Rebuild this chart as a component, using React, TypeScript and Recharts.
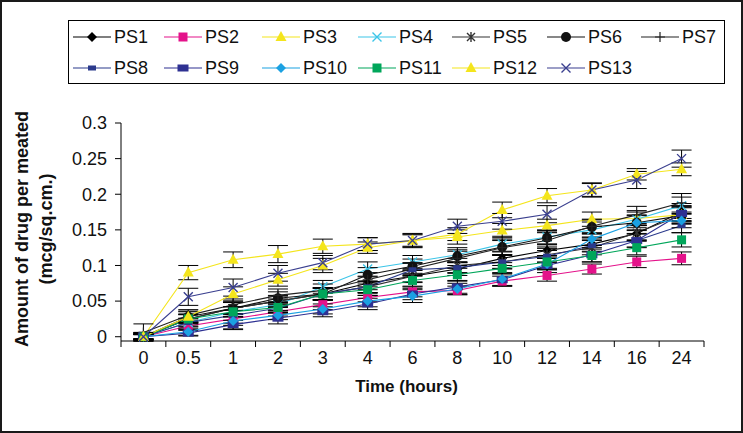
import React from 'react';
import { LineChart, Line, XAxis, YAxis, ErrorBar, Label } from 'recharts';

const timeLabels = ['0', '0.5', '1', '2', '3', '4', '6', '8', '10', '12', '14', '16', '24'];
const yTicks = [0, 0.05, 0.1, 0.15, 0.2, 0.25, 0.3];

const ps1 = [0, 0.025, 0.04, 0.05, 0.06, 0.075, 0.085, 0.095, 0.11, 0.121, 0.13, 0.145, 0.175];
const ps2 = [0, 0.015, 0.025, 0.035, 0.045, 0.055, 0.063, 0.065, 0.078, 0.086, 0.095, 0.105, 0.11];
const ps3 = [0, 0.09, 0.108, 0.116, 0.127, 0.13, 0.135, 0.14, 0.149, 0.156, 0.165, 0.166, 0.171];
const ps4 = [0, 0.02, 0.035, 0.045, 0.07, 0.095, 0.105, 0.115, 0.13, 0.14, 0.15, 0.165, 0.184];
const ps5 = [0, 0.025, 0.04, 0.05, 0.06, 0.07, 0.085, 0.1, 0.105, 0.115, 0.125, 0.146, 0.171];
const ps6 = [0, 0.028, 0.04, 0.054, 0.06, 0.087, 0.099, 0.113, 0.126, 0.139, 0.154, 0.16, 0.17];
const ps7 = [0.006, 0.03, 0.045, 0.058, 0.065, 0.08, 0.095, 0.11, 0.125, 0.135, 0.155, 0.171, 0.188];
const ps8 = [0, 0.02, 0.03, 0.04, 0.06, 0.07, 0.094, 0.097, 0.105, 0.113, 0.128, 0.135, 0.156];
const ps9 = [0, 0.005, 0.017, 0.026, 0.035, 0.046, 0.06, 0.07, 0.08, 0.1, 0.115, 0.135, 0.173];
const ps10 = [0, 0.007, 0.022, 0.03, 0.039, 0.05, 0.057, 0.067, 0.081, 0.102, 0.137, 0.16, 0.163];
const ps11 = [0, 0.025, 0.035, 0.041, 0.06, 0.066, 0.079, 0.087, 0.096, 0.105, 0.114, 0.125, 0.136];
const ps12 = [0, 0.028, 0.06, 0.08, 0.1, 0.125, 0.135, 0.144, 0.178, 0.198, 0.206, 0.228, 0.235];
const ps13 = [0, 0.056, 0.069, 0.089, 0.104, 0.13, 0.135, 0.155, 0.162, 0.172, 0.206, 0.22, 0.25];

// error bar half-lengths (+/-)
const ps1Err = [0.004, 0.006, 0.008, 0.007, 0.008, 0.009, 0.008, 0.009, 0.01, 0.009, 0.01, 0.011, 0.012];
const ps2Err = [0.003, 0.005, 0.006, 0.006, 0.007, 0.006, 0.007, 0.006, 0.007, 0.008, 0.007, 0.008, 0.009];
const ps3Err = [0.006, 0.01, 0.011, 0.012, 0.01, 0.009, 0.008, 0.01, 0.01, 0.009, 0.01, 0.009, 0.01];
const ps4Err = [0.004, 0.006, 0.007, 0.008, 0.009, 0.01, 0.009, 0.01, 0.011, 0.01, 0.011, 0.012, 0.012];
const ps5Err = [0.004, 0.007, 0.008, 0.008, 0.009, 0.008, 0.009, 0.01, 0.01, 0.011, 0.01, 0.01, 0.012];
const ps6Err = [0.005, 0.007, 0.008, 0.009, 0.009, 0.01, 0.01, 0.009, 0.011, 0.01, 0.01, 0.011, 0.012];
const ps7Err = [0.012, 0.008, 0.008, 0.009, 0.009, 0.01, 0.009, 0.01, 0.01, 0.011, 0.01, 0.012, 0.013];
const ps8Err = [0.003, 0.005, 0.02, 0.007, 0.008, 0.008, 0.009, 0.008, 0.009, 0.008, 0.009, 0.01, 0.01];
const ps9Err = [0.003, 0.004, 0.006, 0.008, 0.007, 0.008, 0.008, 0.009, 0.009, 0.01, 0.01, 0.009, 0.011];
const ps10Err = [0.003, 0.005, 0.006, 0.006, 0.007, 0.008, 0.009, 0.008, 0.009, 0.008, 0.009, 0.01, 0.01];
const ps11Err = [0.004, 0.006, 0.007, 0.007, 0.008, 0.008, 0.008, 0.009, 0.008, 0.009, 0.009, 0.01, 0.01];
const ps12Err = [0.005, 0.008, 0.01, 0.009, 0.01, 0.008, 0.009, 0.009, 0.011, 0.01, 0.009, 0.008, 0.009];
const ps13Err = [0.006, 0.012, 0.012, 0.011, 0.01, 0.009, 0.01, 0.01, 0.011, 0.012, 0.01, 0.012, 0.012];

const YELLOW = '#f4e51c';

const series = [
  { key: 'ps1', name: 'PS1', color: '#000000', shape: 'diamond', values: ps1, errors: ps1Err },
  { key: 'ps2', name: 'PS2', color: '#e4128a', shape: 'square', values: ps2, errors: ps2Err },
  { key: 'ps3', name: 'PS3', color: YELLOW, shape: 'triangle', values: ps3, errors: ps3Err },
  { key: 'ps4', name: 'PS4', color: '#3cc5e8', shape: 'x', values: ps4, errors: ps4Err },
  { key: 'ps5', name: 'PS5', color: '#333333', shape: 'star', values: ps5, errors: ps5Err },
  { key: 'ps6', name: 'PS6', color: '#111111', shape: 'circle', values: ps6, errors: ps6Err },
  { key: 'ps7', name: 'PS7', color: '#222222', shape: 'plus', values: ps7, errors: ps7Err },
  { key: 'ps8', name: 'PS8', color: '#2b3a8c', shape: 'dash', values: ps8, errors: ps8Err },
  { key: 'ps9', name: 'PS9', color: '#2e3192', shape: 'rect', values: ps9, errors: ps9Err },
  { key: 'ps10', name: 'PS10', color: '#1ba1e2', shape: 'diamond', values: ps10, errors: ps10Err },
  { key: 'ps11', name: 'PS11', color: '#00a65a', shape: 'square', values: ps11, errors: ps11Err },
  { key: 'ps12', name: 'PS12', color: YELLOW, shape: 'triangle', values: ps12, errors: ps12Err },
  { key: 'ps13', name: 'PS13', color: '#3a3f8f', shape: 'x', values: ps13, errors: ps13Err },
];

const data = timeLabels.map((t, i) => {
  const row: any = { idx: i, time: t };
  series.forEach((s) => {
    row[s.key] = s.values[i];
    row[s.key + 'Err'] = s.errors[i];
  });
  return row;
});

// tick marks sit between categories (excel style)
const boundaryTicks = [...timeLabels.map((_, i) => i - 0.5), timeLabels.length - 0.5];

const FONT = 'Arial, "Liberation Sans", sans-serif';
const PLOT_W = 583;
const HALF_BAND = PLOT_W / timeLabels.length / 2;

function Marker({ shape, color, cx, cy }: { shape: string; color: string; cx: number; cy: number }) {
  if (cx == null || cy == null) return null;
  switch (shape) {
    case 'diamond':
      return <path d={`M${cx},${cy - 5}L${cx + 5},${cy}L${cx},${cy + 5}L${cx - 5},${cy}Z`} fill={color} />;
    case 'square':
      return <rect x={cx - 4.5} y={cy - 4.5} width={9} height={9} fill={color} />;
    case 'triangle':
      return <path d={`M${cx},${cy - 6}L${cx + 5.5},${cy + 4}L${cx - 5.5},${cy + 4}Z`} fill={color} />;
    case 'x':
      return (
        <path
          d={`M${cx - 4.5},${cy - 4.5}L${cx + 4.5},${cy + 4.5}M${cx - 4.5},${cy + 4.5}L${cx + 4.5},${cy - 4.5}`}
          stroke={color}
          strokeWidth={1.4}
          fill="none"
        />
      );
    case 'star':
      return (
        <path
          d={`M${cx - 4},${cy - 4}L${cx + 4},${cy + 4}M${cx - 4},${cy + 4}L${cx + 4},${cy - 4}M${cx},${cy - 5}L${cx},${cy + 5}`}
          stroke={color}
          strokeWidth={1.4}
          fill="none"
        />
      );
    case 'circle':
      return <circle cx={cx} cy={cy} r={5} fill={color} />;
    case 'plus':
      return (
        <path
          d={`M${cx - 5},${cy}L${cx + 5},${cy}M${cx},${cy - 5}L${cx},${cy + 5}`}
          stroke={color}
          strokeWidth={1.2}
          fill="none"
        />
      );
    case 'dash':
      return <rect x={cx - 4} y={cy - 2.5} width={8} height={5} fill={color} />;
    case 'rect':
      return <rect x={cx - 5.5} y={cy - 3.5} width={11} height={7} fill={color} />;
    default:
      return null;
  }
}

const TimeTick = (props: any) => {
  const { x, y, payload } = props;
  const i = Math.round(payload.value + 0.5);
  if (i < 0 || i >= timeLabels.length) return <g />;
  return (
    <text x={x + HALF_BAND} y={y} dy="0.71em" textAnchor="middle" fontSize={18} fontFamily={FONT} fill="#111">
      {timeLabels[i]}
    </text>
  );
};

const YTitle = (props: any) => {
  const vb = props.viewBox || {};
  const cy = (vb.y || 0) + (vb.height || 0) / 2 - 3;
  return (
    <g fontFamily={FONT} fontWeight="bold" fontSize={18} fill="#111">
      <text x={22} y={cy} transform={`rotate(-90, 22, ${cy})`} textAnchor="middle" dominantBaseline="central">
        Amount of drug per meated
      </text>
      <text x={46} y={cy} transform={`rotate(-90, 46, ${cy})`} textAnchor="middle" dominantBaseline="central">
        (mcg/sq.cm.)
      </text>
    </g>
  );
};

const XTitle = (props: any) => {
  const vb = props.viewBox || {};
  const cx = (vb.x || 0) + (vb.width || 0) / 2 - 6;
  return (
    <text x={cx} y={386} textAnchor="middle" dominantBaseline="central" fontFamily={FONT} fontWeight="bold" fontSize={17} fill="#111">
      Time (hours)
    </text>
  );
};

const legendCols = [5, 96, 194, 290, 384, 479, 573];
const legendRows = [16, 47];

const LegendBox = () => (
  <div
    style={{
      position: 'absolute',
      left: 68,
      top: 20,
      width: 657,
      height: 64,
      border: '1px solid #000',
      boxSizing: 'border-box',
      background: '#fff',
      fontFamily: FONT,
      fontSize: 18,
      color: '#111',
    }}
  >
    {series.map((s, i) => {
      const col = i % 7;
      const row = Math.floor(i / 7);
      return (
        <div
          key={s.key}
          style={{
            position: 'absolute',
            left: legendCols[col] - 1,
            top: legendRows[row] - 11,
            height: 22,
            display: 'flex',
            alignItems: 'center',
            whiteSpace: 'nowrap',
          }}
        >
          <svg width={38} height={20} style={{ display: 'block' }}>
            <line x1={0} y1={10} x2={38} y2={10} stroke={s.color} strokeWidth={1.2} />
            <Marker shape={s.shape} color={s.color} cx={19} cy={10} />
          </svg>
          <span style={{ marginLeft: 3, lineHeight: '22px' }}>{s.name}</span>
        </div>
      );
    })}
  </div>
);

export default function App() {
  return (
    <div style={{ position: 'relative', width: 743, height: 433, background: '#fff', overflow: 'hidden' }}>
      <style>{'body{margin:0}'}</style>
      <div style={{ position: 'absolute', left: 0, top: 0 }}>
        <LineChart width={743} height={433} data={data} margin={{ top: 123, right: 39, bottom: 32, left: 0 }}>
          <XAxis
            type="number"
            dataKey="idx"
            domain={[-0.5, timeLabels.length - 0.5]}
            ticks={boundaryTicks}
            interval={0}
            tick={<TimeTick />}
            tickSize={6}
            tickMargin={4}
            height={60}
            axisLine={{ stroke: '#000' }}
            tickLine={{ stroke: '#000' }}
          >
            <Label content={<XTitle />} />
          </XAxis>
          <YAxis
            type="number"
            domain={[0, 0.3]}
            ticks={yTicks}
            interval={0}
            width={121}
            tickSize={6}
            tickMargin={8}
            tickFormatter={(v: number) => String(v)}
            tick={{ fontSize: 18, fontFamily: FONT, fill: '#111' }}
            axisLine={{ stroke: '#000' }}
            tickLine={{ stroke: '#000' }}
          >
            <Label content={<YTitle />} />
          </YAxis>
          {series.map((s) => (
            <Line
              key={s.key}
              type="linear"
              dataKey={s.key}
              name={s.name}
              stroke={s.color}
              strokeWidth={1.1}
              isAnimationActive={false}
              dot={(p: any) => <Marker key={`${s.key}-${p.index}`} shape={s.shape} color={s.color} cx={p.cx} cy={p.cy} />}
              activeDot={false}
            >
              <ErrorBar dataKey={s.key + 'Err'} direction="y" width={10} stroke="#000" strokeWidth={1} isAnimationActive={false} />
            </Line>
          ))}
        </LineChart>
      </div>
      <LegendBox />
      <div
        style={{
          position: 'absolute',
          inset: 0,
          border: '2px solid #1a1a1a',
          pointerEvents: 'none',
        }}
      />
    </div>
  );
}
